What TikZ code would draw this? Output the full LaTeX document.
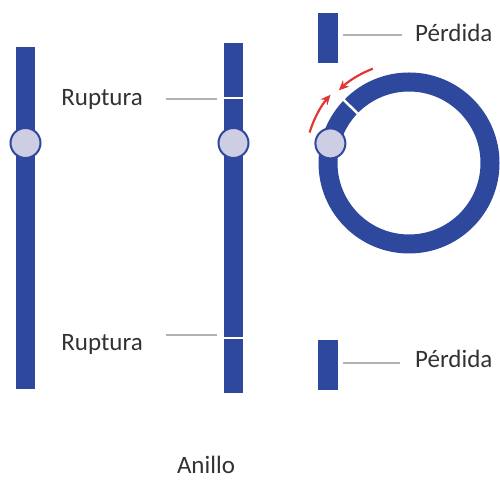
\documentclass[tikz,border=0pt]{standalone}
\usepackage{fontspec}
\setmainfont{Carlito}
\usetikzlibrary{arrows.meta}
\definecolor{chromblue}{RGB}{46,72,158}
\definecolor{centfill}{RGB}{205,205,228}
\definecolor{labelgray}{RGB}{50,50,50}
\definecolor{turnred}{RGB}{228,52,52}

\begin{document}
\begin{tikzpicture}[x=1pt, y=1pt,
	arm/.style={fill=chromblue},
	centro/.style={circle, draw=chromblue, line width=2pt, fill=centfill,
		minimum size=30pt, inner sep=0pt},
	tag/.style={font=\fontsize{25}{30}\selectfont, text=labelgray, inner sep=0pt},
	leader/.style={draw=gray!60, line width=1.8pt},
	cut/.style={draw=white, line width=2.5pt},
	turn/.style={draw=turnred, line width=2.2pt, -{Stealth[length=10pt, width=9pt]}}]
	\useasboundingbox (0,0) rectangle (500,481);
	% intact chromosome
	\fill[arm] (16,92) rectangle (35,434);
	\node[centro] (cenA) at (25.5,338) {};
	% chromosome broken at both arms
	\fill[arm] (224,88) rectangle (243,438);
	\draw[cut] (223,383) -- (244,383);
	\draw[cut] (223,143) -- (244,143);
	\node[centro] (cenB) at (233.5,338) {};
	\node[tag, anchor=base east] (rupTop) at (143,375) {Ruptura};
	\node[tag, anchor=base east] (rupBot) at (143,130) {Ruptura};
	\coordinate (brkTopL) at (166,382);
	\coordinate (brkTopR) at (217,382);
	\coordinate (brkBotL) at (166,146);
	\coordinate (brkBotR) at (217,146);
	\draw[leader] (brkTopL) -- (brkTopR);
	\draw[leader] (brkBotL) -- (brkBotR);
	% ring with the two lost end pieces
	\coordinate (ring) at (409,318);
	\draw[chromblue, line width=19pt] (ring) circle (81);
	\draw[cut] (ring) ++(136:70) -- ++(136:22);
	\path (ring) ++(166:81) node[centro] (cenC) {};
	\draw[turn] (ring) ++(163:104) arc[start angle=163, end angle=139, radius=104];
	\draw[turn] (ring) ++(111:101) arc[start angle=111, end angle=134, radius=101];
	\fill[arm] (318,418) rectangle (338,468);
	\fill[arm] (318,91) rectangle (338,141);
	\node[tag, anchor=base west] (lossTop) at (415,439) {Pérdida};
	\node[tag, anchor=base west] (lossBot) at (415,113) {Pérdida};
	\coordinate (fragTop) at (343,446);
	\coordinate (fragBot) at (343,118);
	\draw[leader] (fragTop) -- ++(59,0) coordinate (lossTopEnd);
	\draw[leader] (fragBot) -- ++(57,0) coordinate (lossBotEnd);
	\node[tag, anchor=base] (ringTag) at (206,7) {Anillo};
\end{tikzpicture}
\end{document}
